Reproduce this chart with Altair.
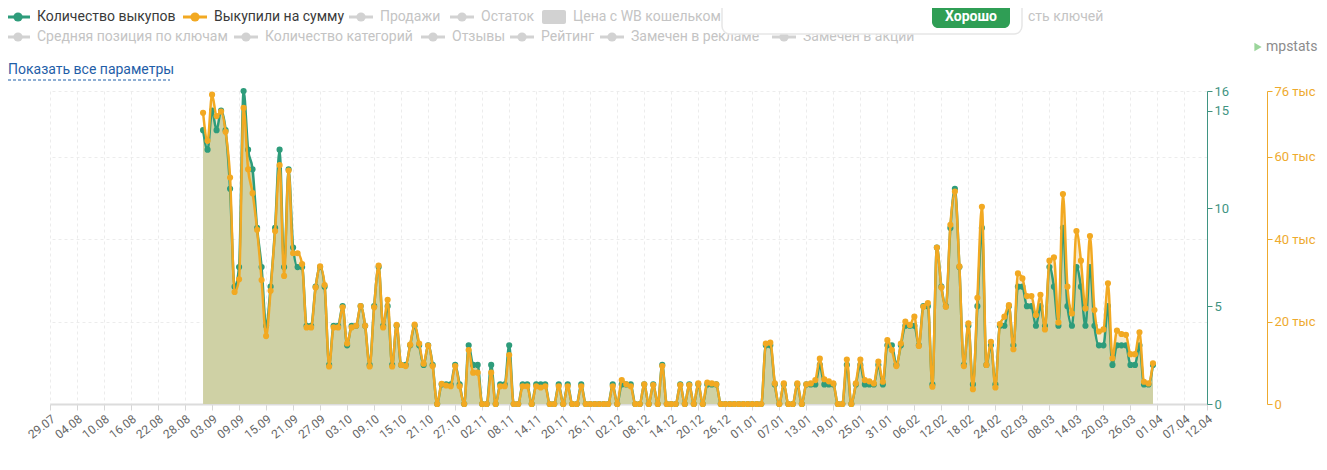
import altair as alt
import pandas as pd

# ---------------- data ----------------
START_DATE = "2022-09-01"

# Количество выкупов (daily)
buyouts = [
    14, 13, 15, 14, 15, 14, 11, 6, 7, 16,
    13, 12, 9, 7, 4, 6, 9, 13, 7, 12,
    8, 7, 7, 4, 4, 6, 7, 6, 2, 4,
    4, 5, 3, 4, 4, 5, 4, 2, 5, 7,
    4, 5, 2, 4, 2, 2, 3, 4, 3, 2,
    3, 2, 0, 1, 1, 1, 2, 1, 0, 3,
    2, 2, 0, 0, 2, 0, 1, 1, 3, 0,
    0, 1, 1, 0, 1, 1, 1, 0, 0, 1,
    0, 1, 0, 0, 1, 0, 0, 0, 0, 0,
    0, 1, 0, 1, 1, 1, 0, 0, 1, 0,
    1, 0, 2, 0, 0, 0, 1, 0, 1, 0,
    1, 0, 1, 1, 1, 0, 0, 0, 0, 0,
    0, 0, 0, 0, 0, 3, 3, 1, 0, 1,
    0, 0, 1, 0, 1, 1, 1, 2, 1, 1,
    1, 0, 0, 2, 0, 1, 2, 1, 1, 1,
    2, 1, 3, 3, 2, 3, 4, 4, 4, 3,
    5, 5, 1, 8, 6, 5, 9, 11, 7, 2,
    4, 1, 5, 9, 2, 3, 1, 4, 4, 5,
    3, 6, 6, 5, 5, 4, 5, 4, 7, 6,
    4, 9, 5, 4, 7, 6, 4, 7, 4, 3,
    3, 5, 2, 3, 3, 3, 2, 2, 3, 1,
    1, 2,
]

# Выкупили на сумму, тыс. руб. (daily)
revenue_thousand = [
    70.7, 63.9, 75.1, 69.9, 71.0, 66.1, 55.0, 27.2, 30.3, 71.9,
    57.0, 51.2, 42.3, 30.1, 16.5, 27.5, 42.0, 58.0, 31.1, 56.7,
    36.6, 36.6, 34.0, 18.6, 18.6, 28.3, 33.4, 28.9, 9.1, 18.6,
    18.6, 23.5, 14.7, 18.6, 19.0, 23.8, 19.0, 9.1, 23.5, 33.6,
    18.6, 25.3, 9.1, 19.2, 9.5, 9.2, 14.4, 19.3, 14.7, 9.8,
    14.2, 9.2, 0, 4.9, 4.5, 4.3, 9.2, 4.3, 0, 13.1,
    7.6, 7.6, 0, 0, 7.6, 0, 4.3, 4.3, 11.9, 0,
    0, 4.3, 4.3, 0, 4.3, 4.0, 4.3, 0, 0, 4.3,
    0, 4.3, 0, 0, 4.3, 0, 0, 0, 0, 0,
    0, 4.3, 0, 5.8, 4.8, 4.3, 0, 0, 4.8, 0,
    4.6, 0, 9.2, 0, 0, 0, 4.6, 0, 4.6, 0,
    5.0, 0, 5.2, 5.0, 4.8, 0, 0, 0, 0, 0,
    0, 0, 0, 0, 0, 14.7, 14.9, 5.0, 0, 5.0,
    0, 0, 5.0, 0, 4.8, 5.0, 5.8, 11.0, 6.0, 5.5,
    5.0, 0, 0, 10.8, 0, 5.0, 10.8, 5.8, 5.5, 5.0,
    10.3, 5.4, 15.5, 13.1, 9.2, 14.7, 20.0, 19.2, 21.2, 14.1,
    23.6, 24.5, 4.2, 38.0, 28.3, 23.6, 43.5, 51.6, 33.4, 9.2,
    19.6, 3.6, 25.8, 47.9, 9.5, 15.1, 4.0, 19.4, 21.2, 24.0,
    13.3, 31.7, 30.5, 26.2, 26.2, 21.6, 26.5, 18.1, 34.8, 35.6,
    19.8, 51.0, 28.5, 22.0, 42.0, 34.8, 23.2, 40.8, 22.8, 17.6,
    18.1, 29.3, 11.1, 17.8, 17.0, 16.8, 12.1, 12.1, 17.4, 5.4,
    5.0, 9.9,
]

tick_labels = [
    "29.07", "04.08", "10.08", "16.08", "22.08", "28.08", "03.09", "09.09",
    "15.09", "21.09", "27.09", "03.10", "09.10", "15.10", "21.10", "27.10",
    "02.11", "08.11", "14.11", "20.11", "26.11", "02.12", "08.12", "14.12",
    "20.12", "26.12", "01.01", "07.01", "13.01", "19.01", "25.01", "31.01",
    "06.02", "12.02", "18.02", "24.02", "02.03", "08.03", "14.03", "20.03",
    "26.03", "01.04", "07.04", "12.04",
]

buyout_ticks = [0, 5, 10, 15, 16]
revenue_ticks = [0, 20, 40, 60, 76]
buyout_max = 16
revenue_max = 76

# legend items (the last one of row 1 is partly hidden behind the popup)
legend_row1 = ["Количество выкупов", "Выкупили на сумму", "Продажи", "Остаток",
               "Цена с WB кошельком"]
legend_row1_tail = "сть ключей"
legend_row2 = ["Средняя позиция по ключам", "Количество категорий", "Отзывы",
               "Рейтинг", "Замечен в рекламе", "Замечен в акции"]
legend_active = {"Количество выкупов": "green", "Выкупили на сумму": "orange"}
legend_rect_items = ["Цена с WB кошельком"]

show_all_text = "Показать все параметры"
popup_button_text = "Хорошо"
brand_text = "mpstats"

# ---------------- layout / style ----------------
GREEN = "#2e9c7b"
ORANGE = "#f2a922"
GREEN_AXIS = "#3f9482"
ORANGE_AXIS = "#eeaa2e"
GREEN_FILL = "#cfd1a5"
ORANGE_FILL = "#f6eacf"
INACTIVE = "#d2d2d2"
INACTIVE_TEXT = "#c4c4c4"
FONT = "Roboto"

OX, OY = 50, 91          # page position of plot origin
W, H = 1157, 313
ROW1_TEXT_X = [37, 214, 380, 481, 573]
ROW1_TAIL_X = 1028
ROW2_TEXT_X = [37, 265, 452, 541, 631, 803]
ROW1_Y, ROW2_Y = 17, 37


def to_date(lbl):
    d, m = (int(p) for p in lbl.split("."))
    return alt.DateTime(year=2022 if m >= 7 else 2023, month=m, date=d)


tick_dates = [to_date(t) for t in tick_labels]

dates = pd.date_range(START_DATE, periods=len(buyouts), freq="D")
df = pd.DataFrame({"date": dates, "buyouts": buyouts, "revenue": revenue_thousand})

x_enc = alt.X(
    "date:T",
    scale=alt.Scale(domain=[tick_dates[0], tick_dates[-1]]),
    axis=alt.Axis(
        values=tick_dates, format="%d.%m", labelAngle=322, labelFlush=False,
        labelOverlap=False, grid=True, gridDash=[3, 3], gridColor="#ececec",
        domainColor="#dcdcdc", domainWidth=2, tickColor="#d6d6d6", tickSize=6,
        labelColor="#666666", labelFont=FONT, labelFontSize=12, labelPadding=3,
        title=None,
    ),
)

buy_y = alt.Y(
    "buyouts:Q",
    scale=alt.Scale(domain=[0, buyout_max], nice=False, zero=True),
    axis=alt.Axis(
        orient="right", values=buyout_ticks, grid=False, title=None,
        domainColor=GREEN_AXIS, tickColor=GREEN_AXIS, labelColor=GREEN_AXIS,
        tickSize=5, labelFont=FONT, labelFontSize=13, labelPadding=2,
        offset=0,
    ),
)
rev_scale = alt.Scale(domain=[0, revenue_max], nice=False, zero=True)
rev_y = alt.Y(
    "revenue:Q",
    scale=rev_scale,
    axis=alt.Axis(
        orient="right", values=revenue_ticks, grid=True, gridDash=[3, 3],
        gridColor="#ececec", title=None,
        domainColor=ORANGE_AXIS, tickColor=ORANGE_AXIS, labelColor=ORANGE_AXIS,
        tickSize=5, labelFont=FONT, labelFontSize=13, labelPadding=2,
        offset=60,
        labelExpr="datum.value == 0 ? '0' : datum.value + ' тыс'",
    ),
)

base = alt.Chart(df)

orange_area = base.mark_area(color=ORANGE_FILL, interpolate="monotone").encode(
    x=x_enc, y=alt.Y("revenue:Q", scale=rev_scale, axis=None)
)

green_group = alt.layer(
    base.mark_area(color=GREEN_FILL, interpolate="monotone").encode(x=x_enc, y=buy_y),
    base.mark_line(color=GREEN, strokeWidth=2.5, interpolate="monotone").encode(x=x_enc, y=buy_y),
    base.mark_circle(color=GREEN, size=38, opacity=1).encode(x=x_enc, y=buy_y),
)

orange_group = alt.layer(
    base.mark_line(color=ORANGE, strokeWidth=2.5, interpolate="monotone").encode(x=x_enc, y=rev_y),
    base.mark_circle(color=ORANGE, size=38, opacity=1).encode(x=x_enc, y=rev_y),
)

# ---------------- legend (decoration) ----------------
rows = []
for labels, xs, yy in ((legend_row1, ROW1_TEXT_X, ROW1_Y), (legend_row2, ROW2_TEXT_X, ROW2_Y)):
    for lbl, tx in zip(labels, xs):
        active = legend_active.get(lbl)
        mcol = GREEN if active == "green" else ORANGE if active == "orange" else INACTIVE
        tcol = "#3a3a3a" if active else INACTIVE_TEXT
        rows.append({
            "label": lbl, "tx": tx - OX, "y": yy - OY,
            "x1": tx - 31 - OX, "x2": tx - 7 - OX, "cx": tx - 19 - OX,
            "ry1": yy - 7 - OY, "ry2": yy + 7 - OY,
            "mcolor": mcol, "tcolor": tcol,
            "kind": "rect" if lbl in legend_rect_items else "line",
        })
leg = pd.DataFrame(rows)
leg_lines = leg[leg.kind == "line"]
leg_rects = leg[leg.kind == "rect"]
leg_texts = pd.concat([
    leg[["label", "tx", "y", "tcolor"]],
    pd.DataFrame([{"label": legend_row1_tail, "tx": ROW1_TAIL_X - OX,
                   "y": ROW1_Y - OY, "tcolor": INACTIVE_TEXT}]),
], ignore_index=True)

px = lambda f: alt.X(f, scale=None)
py = lambda f: alt.Y(f, scale=None)

legend_rule = alt.Chart(leg_lines).mark_rule(strokeWidth=3).encode(
    x=px("x1:Q"), x2="x2:Q", y=py("y:Q"), color=alt.Color("mcolor:N", scale=None)
)
legend_dot = alt.Chart(leg_lines).mark_circle(size=85, opacity=1).encode(
    x=px("cx:Q"), y=py("y:Q"), color=alt.Color("mcolor:N", scale=None)
)
legend_rect = alt.Chart(leg_rects).mark_rect(cornerRadius=2).encode(
    x=px("x1:Q"), x2="x2:Q", y=py("ry1:Q"), y2="ry2:Q", color=alt.Color("mcolor:N", scale=None)
)
legend_text = alt.Chart(leg_texts).mark_text(
    align="left", baseline="middle", font=FONT, fontSize=14
).encode(x=px("tx:Q"), y=py("y:Q"), text="label:N", color=alt.Color("tcolor:N", scale=None))

extra = pd.DataFrame([{
    "label": show_all_text, "x": 8 - OX, "x2": 170 - OX, "y": 70 - OY, "uy": 80 - OY,
}])
link_text = alt.Chart(extra).mark_text(
    align="left", baseline="middle", font=FONT, fontSize=14, color="#1f5ea8"
).encode(x=px("x:Q"), y=py("y:Q"), text="label:N")
link_line = alt.Chart(extra).mark_rule(color="#1f5ea8", strokeWidth=1, strokeDash=[3, 2]).encode(
    x=px("x:Q"), x2="x2:Q", y=py("uy:Q")
)

popup = pd.DataFrame([{
    "x": 722 - OX, "x2": 1022 - OX, "y": -20 - OY, "y2": 34 - OY,
    "bx": 932 - OX, "bx2": 1010 - OX, "by2": 28 - OY,
    "tx": 971 - OX, "ty": 17 - OY, "label": popup_button_text,
}])
popup_box = alt.Chart(popup).mark_rect(
    color="white", cornerRadius=8, stroke="#e6e6e6", strokeWidth=1.5
).encode(x=px("x:Q"), x2="x2:Q", y=py("y:Q"), y2="y2:Q")
popup_btn = alt.Chart(popup).mark_rect(color="#2f9e55", cornerRadius=6).encode(
    x=px("bx:Q"), x2="bx2:Q", y=py("y:Q"), y2="by2:Q"
)
popup_txt = alt.Chart(popup).mark_text(
    align="center", baseline="middle", font=FONT, fontSize=14, fontWeight="bold", color="white"
).encode(x=px("tx:Q"), y=py("ty:Q"), text="label:N")

brand = pd.DataFrame([{"label": brand_text, "x": 1266 - OX, "ix": 1258 - OX, "y": 47 - OY}])
brand_txt = alt.Chart(brand).mark_text(
    align="left", baseline="middle", font=FONT, fontSize=14, color="#8c8c8c"
).encode(x=px("x:Q"), y=py("y:Q"), text="label:N")
brand_icon = alt.Chart(brand).mark_point(
    shape="triangle-right", filled=True, size=70, color="#9bd59b", opacity=1
).encode(x=px("ix:Q"), y=py("y:Q"))

chart = alt.layer(
    orange_area, green_group, orange_group,
    legend_rule, legend_dot, legend_rect, legend_text,
    link_text, link_line, brand_icon, brand_txt,
    popup_box, popup_btn, popup_txt,
).resolve_scale(y="independent").properties(
    width=W, height=H,
    padding={"left": OX - 8, "top": OY - 8, "right": 112, "bottom": 60},
    autosize=alt.AutoSizeParams(type="none"),
    background="white",
).configure_view(stroke=None)

chart.save("out.html", embed_options={"renderer": "svg", "actions": False})
